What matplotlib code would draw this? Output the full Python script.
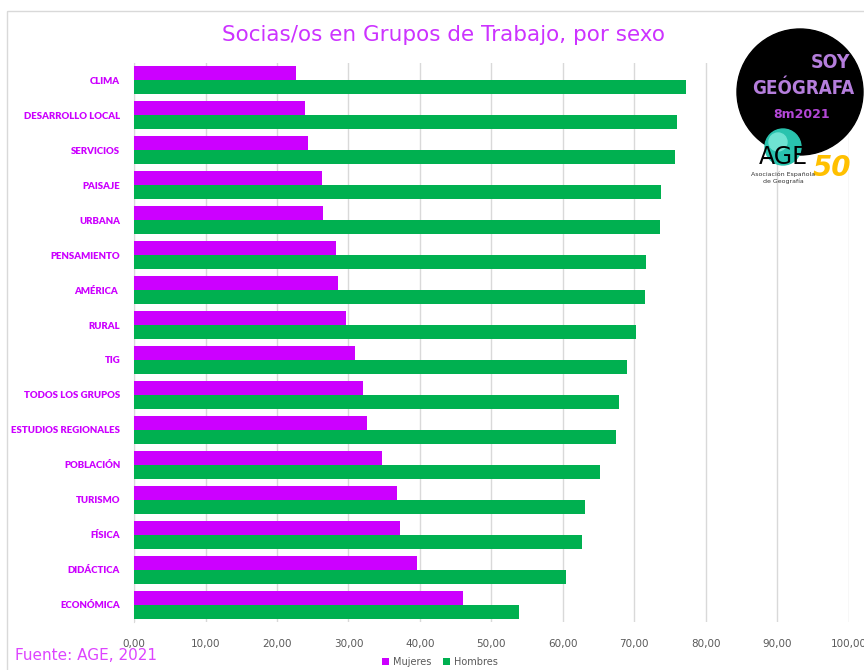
import matplotlib.pyplot as plt
from matplotlib.patches import Circle, Rectangle
from matplotlib.ticker import FuncFormatter

grupos = ["CLIMA", "DESARROLLO LOCAL", "SERVICIOS", "PAISAJE", "URBANA",
          "PENSAMIENTO", "AMÉRICA ", "RURAL", "TIG", "TODOS LOS GRUPOS",
          "ESTUDIOS REGIONALES", "POBLACIÓN", "TURISMO", "FÍSICA",
          "DIDÁCTICA", "ECONÓMICA"]
mujeres = [22.6, 23.9, 24.3, 26.3, 26.5, 28.2, 28.5, 29.7, 30.9, 32.0,
           32.6, 34.7, 36.8, 37.2, 39.6, 46.1]
hombres = [77.3, 76.0, 75.7, 73.7, 73.6, 71.7, 71.5, 70.2, 69.0, 67.9,
           67.4, 65.2, 63.1, 62.7, 60.4, 53.8]

magenta = "#CC00FF"
verde = "#00B050"

fig = plt.figure(figsize=(8.64, 6.7), dpi=100)
ax = fig.add_axes([134.1 / 864, 1 - 622 / 670, 714.5 / 864, 559 / 670])

pos = list(range(len(grupos)))
ax.barh([p - 0.2 for p in pos], mujeres, height=0.4, color=magenta, label="Mujeres", zorder=3)
ax.barh([p + 0.2 for p in pos], hombres, height=0.4, color=verde, label="Hombres", zorder=3)

ax.set_xlim(0, 100)
ax.set_ylim(len(grupos) - 0.5, -0.5)
ax.set_xticks(range(0, 101, 10))
ax.xaxis.set_major_formatter(FuncFormatter(lambda v, p: f"{v:.2f}".replace(".", ",")))
ax.set_yticks(pos)
ax.set_yticklabels(grupos, fontfamily="Lato", fontweight="heavy", fontsize=6.9, color=magenta)
ax.tick_params(axis="y", length=0, pad=10)
ax.tick_params(axis="x", length=0, pad=12, labelsize=7.5, labelcolor="#595959")
ax.grid(axis="x", color="#D9D9D9", lw=1, zorder=0)
for s in ["top", "right", "bottom"]:
    ax.spines[s].set_visible(False)
ax.spines["left"].set_color("#D9D9D9")

fig.text(443 / 864, 1 - 35 / 670, "Socias/os en Grupos de Trabajo, por sexo",
         ha="center", va="center", fontsize=15.5, color="#CC33FF")
fig.text(15 / 864, 1 - 655 / 670, "Fuente: AGE, 2021", ha="left", va="center",
         fontsize=11, color="#DD44FF")

fig.legend(loc="center", bbox_to_anchor=(440 / 864, 1 - 662 / 670), ncol=2, frameon=False,
           fontsize=7, labelcolor="#595959", handlelength=0.7, handleheight=0.7,
           handletextpad=0.4, columnspacing=1.2)

# marco y logo en coordenadas de pixel
ov = fig.add_axes([0, 0, 1, 1], zorder=5)
ov.set_xlim(0, 864)
ov.set_ylim(670, 0)
ov.axis("off")
ov.add_patch(Rectangle((7, 11), 900, 700, fill=False, ec="#D9D9D9", lw=1))
ov.add_patch(Circle((800, 92), 63, color="black"))
ov.add_patch(Circle((783, 147), 18, color="#29C3AE"))
ov.add_patch(Circle((778, 142), 9, color="#6FE3D2"))
ov.text(850, 63, "SOY", ha="right", va="center", fontsize=14, fontweight="bold",
        color="#B57EDC", fontstretch="condensed")
ov.text(803, 88, "GEÓGRAFA", ha="center", va="center", fontsize=13.5, fontweight="bold",
        color="#B57EDC", fontstretch="condensed")
ov.text(802, 115, "8m2021", ha="center", va="center", fontsize=9, fontweight="bold",
        color="#B347D6")
ov.text(783, 157, "AGE", ha="center", va="center", fontsize=17, color="black")
ov.text(832, 168, "50", ha="center", va="center", fontsize=20, style="italic",
        fontweight="bold", color="#FFC000")
ov.text(783, 174, "Asociación Española", ha="center", va="center", fontsize=4.5, color="#333333")
ov.text(783, 181, "de Geografía", ha="center", va="center", fontsize=4.5, color="#333333")

fig.savefig("out.png", dpi=100)
